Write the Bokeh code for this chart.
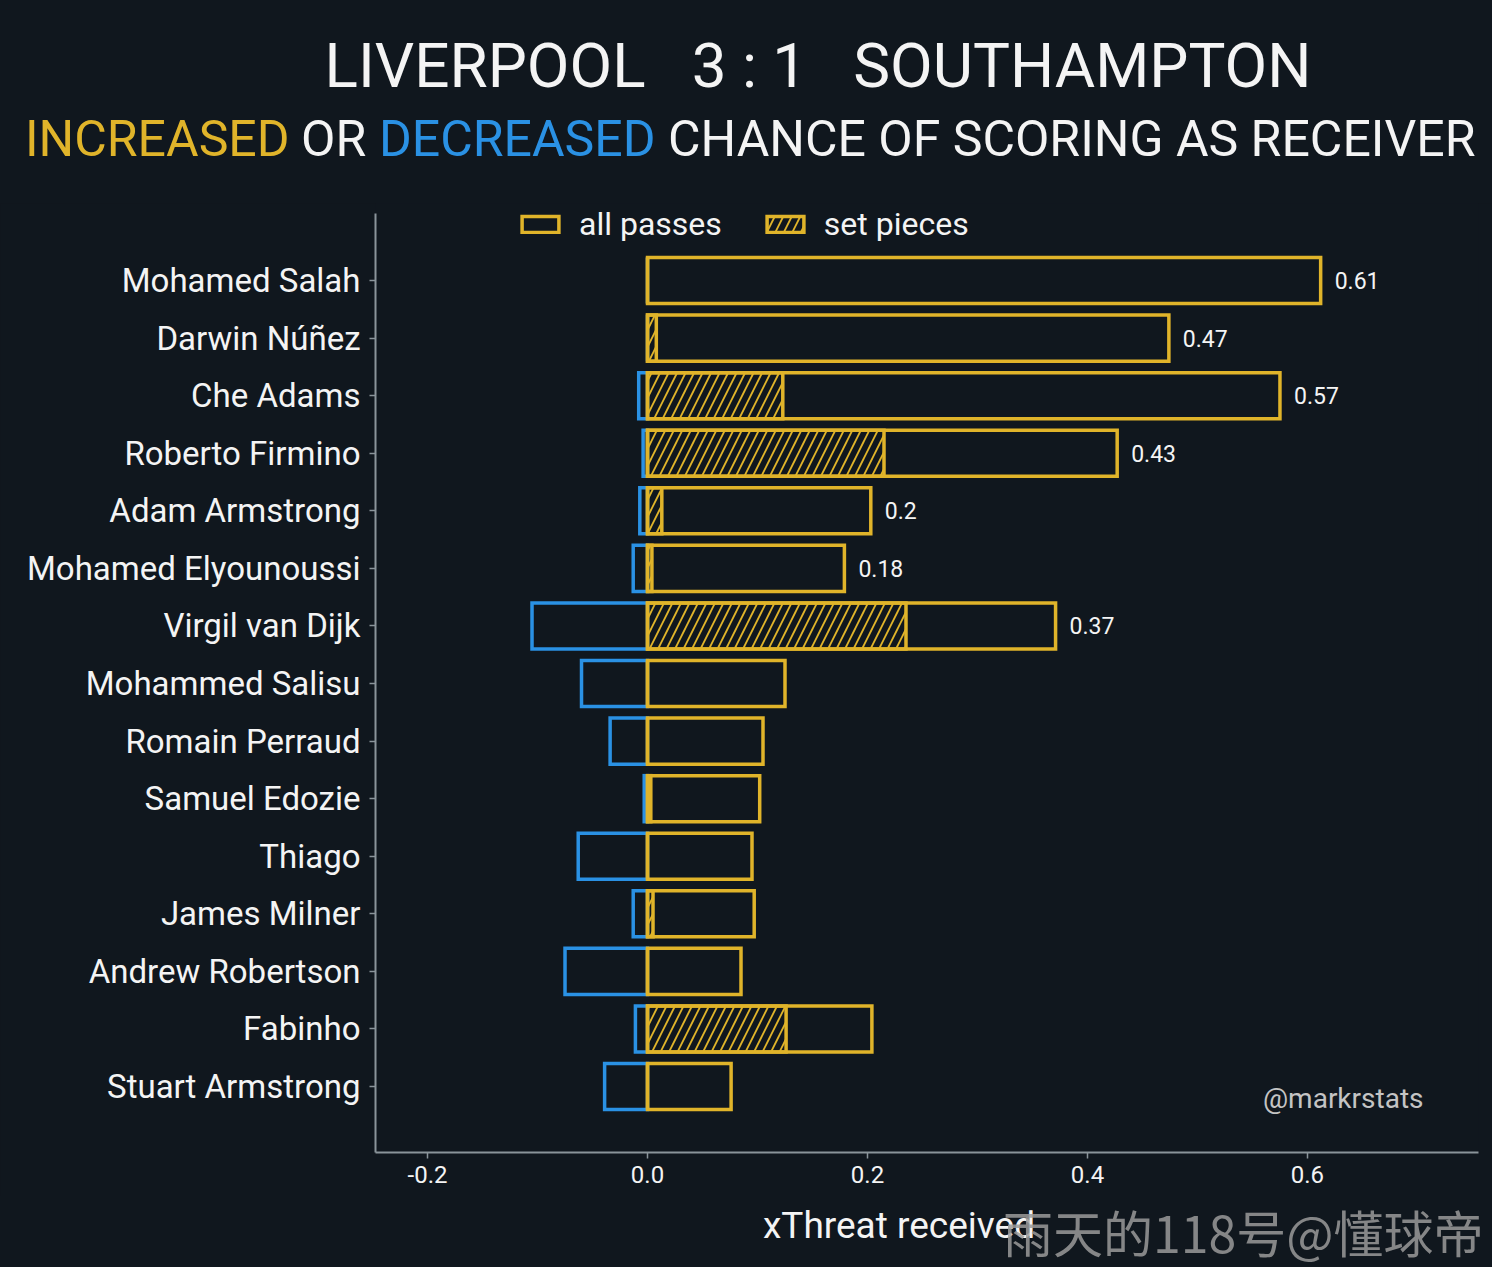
from bokeh.plotting import figure
from bokeh.layouts import column
from bokeh.models import (ColumnDataSource, Range1d, FixedTicker, NumeralTickFormatter,
                          Legend, LegendItem, Div)
from bokeh.core.properties import value
from bokeh.embed import file_html
from bokeh.resources import INLINE

# ---------------- data ----------------
players = ["Mohamed Salah", "Darwin Núñez", "Che Adams", "Roberto Firmino",
           "Adam Armstrong", "Mohamed Elyounoussi", "Virgil van Dijk",
           "Mohammed Salisu", "Romain Perraud", "Samuel Edozie", "Thiago",
           "James Milner", "Andrew Robertson", "Fabinho", "Stuart Armstrong"]
increase = [0.612, 0.474, 0.575, 0.427, 0.203, 0.179, 0.371, 0.125, 0.105,
            0.102, 0.095, 0.097, 0.085, 0.204, 0.076]
decrease = [0.0, 0.0, -0.008, -0.004, -0.007, -0.013, -0.105, -0.060, -0.034,
            -0.003, -0.063, -0.013, -0.075, -0.011, -0.039]
set_pieces = [0.0, 0.008, 0.123, 0.215, 0.013, 0.004, 0.235, 0.0, 0.0,
              0.003, 0.0, 0.005, 0.0, 0.126, 0.0]
value_labels = ["0.61", "0.47", "0.57", "0.43", "0.2", "0.18", "0.37",
                "", "", "", "", "", "", "", ""]
x_ticks = [-0.2, 0.0, 0.2, 0.4, 0.6]

title_text = "LIVERPOOL\u00a0\u00a0\u00a03 : 1\u00a0\u00a0\u00a0SOUTHAMPTON"
subtitle_parts = ["INCREASED", "OR", "DECREASED", "CHANCE OF SCORING AS RECEIVER"]
x_label = "xThreat received"
credit = "@markrstats"
watermark = "雨天的118号@懂球帝"

# ---------------- style ----------------
BG = "#10171e"
GOLD = "#E0B42A"
BLUE = "#2A91E4"
AXIS = "#8a949a"
WHITE = "#f4f4f4"
FONT = "Roboto"
W = 1492
TOP_H = 203
MAIN_H = 993
BOT_H = 71
BG_STYLE = {"background-color": BG}


def svg_text(x, y, txt, color, size, family="Roboto", anchor="start", opacity=1.0):
    return (f'<text x="{x}" y="{y}" text-anchor="{anchor}" '
            f'style="font-family:\'{family}\';font-size:{size}px;fill:{color};'
            f'fill-opacity:{opacity};font-weight:400">{txt}</text>')


# ---------------- title strip (SVG text in a Div) ----------------
sub_x = [25, 301, 379, 668]
sub_col = [GOLD, WHITE, BLUE, WHITE]
top_parts = [svg_text(818, 87, title_text, WHITE, 62, anchor="middle")]
top_parts += [svg_text(x, 156, t, c, 50)
              for t, x, c in zip(subtitle_parts, sub_x, sub_col)]
top_svg = (f'<svg xmlns="http://www.w3.org/2000/svg" width="{W}" height="{TOP_H}" '
           f'style="display:block">' + "".join(top_parts) + '</svg>')
top = Div(text=top_svg, width=W, height=TOP_H, margin=0,
          styles={"background-color": BG, "padding": "0", "overflow": "hidden"})

# ---------------- main chart ----------------
idx = list(range(len(players)))
src = ColumnDataSource(dict(y=idx, inc=increase, dec=decrease, sp=set_pieces,
                            lab=value_labels))

p = figure(width=W, height=MAIN_H,
           x_range=Range1d(-0.2473, 0.7555), y_range=Range1d(15.146, -1.338),
           output_backend="svg", toolbar_location=None,
           background_fill_color=BG, border_fill_color=BG,
           min_border_left=375, min_border_right=14,
           min_border_top=0, min_border_bottom=44,
           outline_line_color=None, styles=BG_STYLE)
p.grid.visible = False

blue_r = p.hbar(y="y", left="dec", right=0, height=0.8, source=src,
                fill_alpha=0, line_color=BLUE, line_width=3.5, line_join="miter")
sp_r = p.hbar(y="y", left=0, right="sp", height=0.8, source=src,
              fill_alpha=0, line_color=GOLD, line_width=3.5, line_join="miter",
              hatch_pattern="/", hatch_color=GOLD, hatch_scale=17, hatch_weight=1.8)
gold_r = p.hbar(y="y", left=0, right="inc", height=0.8, source=src,
                fill_alpha=0, line_color=GOLD, line_width=3.5, line_join="miter")

p.text(x="inc", y="y", text="lab", source=src, x_offset=14,
       text_baseline="middle", text_align="left",
       text_font=value(FONT), text_font_size="23px", text_color=WHITE)

xa = p.xaxis[0]
xa.ticker = FixedTicker(ticks=x_ticks)
xa.formatter = NumeralTickFormatter(format="0.0")
ya = p.yaxis[0]
ya.ticker = FixedTicker(ticks=idx)
ya.major_label_overrides = {i: n for i, n in zip(idx, players)}
ya.bounds = (-1.164, 15.146)

for ax in (xa, ya):
    ax.axis_line_color = AXIS
    ax.axis_line_width = 2
    ax.major_tick_line_color = AXIS
    ax.major_tick_line_width = 1.5
    ax.major_tick_in = 0
    ax.major_tick_out = 6
    ax.minor_tick_line_color = None
    ax.major_label_text_color = WHITE
    ax.major_label_text_font = FONT
xa.major_label_text_font_size = "24px"
xa.major_label_standoff = 7
ya.major_label_text_font_size = "33px"
ya.major_label_standoff = 9

legend = Legend(items=[LegendItem(label="all passes", renderers=[gold_r]),
                       LegendItem(label="set pieces", renderers=[sp_r])],
                orientation="horizontal", location=(142, 909),
                glyph_width=46, glyph_height=20, label_standoff=16, spacing=40,
                padding=0, margin=0, background_fill_alpha=0, border_line_alpha=0,
                label_text_font=FONT, label_text_font_size="32px",
                label_text_color=WHITE)
p.add_layout(legend)

p.text(x=[0.7055], y=[14.2], text=[credit], text_align="right",
       text_baseline="alphabetic", text_font=value(FONT), text_font_size="28px",
       text_color="#c4c4c4")

# ---------------- bottom strip (axis title + watermark) ----------------
bot_svg = (f'<svg xmlns="http://www.w3.org/2000/svg" width="{W}" height="{BOT_H}" '
           f'style="display:block">'
           + svg_text(899, 42, x_label, WHITE, 37, anchor="middle")
           + svg_text(1003, 57, watermark, "#9a9a9a", 50, family="Noto Sans CJK SC",
                      opacity=0.85)
           + '</svg>')
bot = Div(text=bot_svg, width=W, height=BOT_H, margin=0,
          styles={"background-color": BG, "padding": "0", "overflow": "hidden"})

layout = column(top, p, bot, spacing=0, styles=BG_STYLE)
html = file_html(layout, INLINE)
html = html.replace("<body>", f'<body style="background-color:{BG}">', 1)
open("out.html", "w").write(html)
